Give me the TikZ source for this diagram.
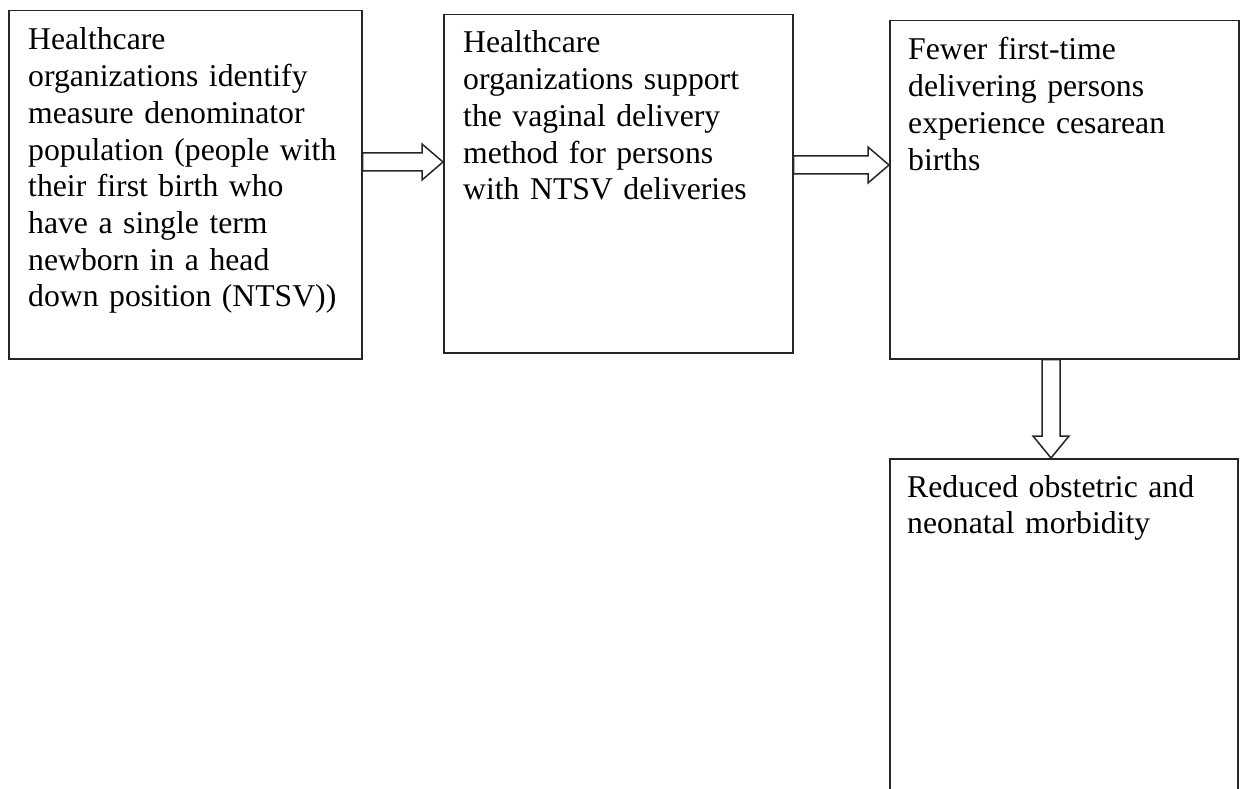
\documentclass[tikz,border=0pt]{standalone}
\usepackage{fontspec}
\setmainfont{Liberation Serif}
\usetikzlibrary{calc}
\begin{document}
\begin{tikzpicture}[x=1pt, y=1pt,
  box/.style={draw=black!85, line width=1.5pt, inner sep=0pt, anchor=north west},
  txt/.style={anchor=base west, align=left, inner sep=0pt, text width=330pt,
    font=\fontsize{31.7}{36.7}\selectfont},
  harrow/.style={draw=black!85, line width=1.5pt, line join=miter, to path={let \p1=(\tikztostart), \p2=(\tikztotarget) in
    (\x1,\y1+9pt) -- (\x2-21pt,\y1+9pt) -- (\x2-21pt,\y1+18pt) -- (\x2,\y1)
    -- (\x2-21pt,\y1-18pt) -- (\x2-21pt,\y1-9pt) -- (\x1,\y1-9pt) -- cycle}},
  varrow/.style={draw=black!85, line width=1.5pt, line join=miter, to path={let \p1=(\tikztostart), \p2=(\tikztotarget) in
    (\x1-9pt,\y1) -- (\x1-9pt,\y2+22pt) -- (\x1-18pt,\y2+22pt) -- (\x1,\y2)
    -- (\x1+18pt,\y2+22pt) -- (\x1+9pt,\y2+22pt) -- (\x1+9pt,\y1) -- cycle}}]
\useasboundingbox (0,0) rectangle (1243,-789);
\clip (0,0) rectangle (1243,-789);
% boxes
\node[box, minimum width=353pt, minimum height=348pt] (b1) at (8,-10) {};
\node[box, minimum width=349pt, minimum height=338pt] (b2) at (443,-14) {};
\node[box, minimum width=349pt, minimum height=338pt] (b3) at (889,-20) {};
\node[box, minimum width=348pt, minimum height=360pt] (b4) at (889,-458) {};
% texts
\node[txt] (t1) at ($(b1.north west)+(20,-40)$) {Healthcare\\organizations identify\\measure denominator\\population (people with\\their first birth who\\have a single term\\newborn in a head\\down position (NTSV))};
\node[txt] (t2) at ($(b2.north west)+(20,-39)$) {Healthcare\\organizations support\\the vaginal delivery\\method for persons\\with NTSV deliveries};
\node[txt] (t3) at ($(b3.north west)+(19,-40)$) {Fewer first-time\\delivering persons\\experience cesarean\\births};
\node[txt] (t4) at ($(b4.north west)+(18,-39)$) {Reduced obstetric and\\neonatal morbidity};
% arrows
\draw[harrow] (b1.east |- 0,-162) to (b2.west |- 0,-162);
\draw[harrow] (b2.east |- 0,-165) to (b3.west |- 0,-165);
\draw[varrow] (b3.south -| 1051,0) to (b4.north -| 1051,0);
\end{tikzpicture}
\end{document}
